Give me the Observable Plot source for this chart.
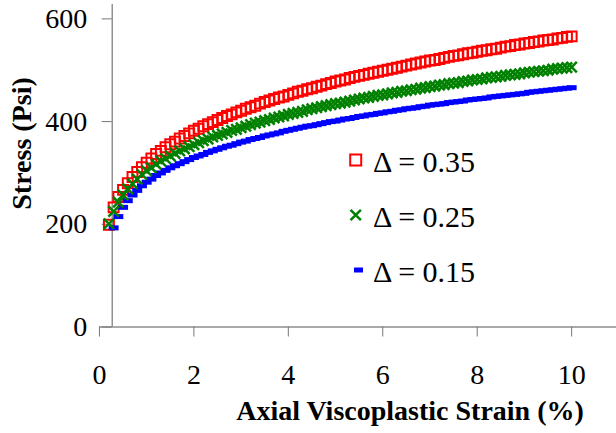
<!DOCTYPE html>
<html><head><meta charset="utf-8">
<script src="https://cdn.jsdelivr.net/npm/d3@7"></script>
<script src="https://cdn.jsdelivr.net/npm/@observablehq/plot@0.6"></script>
</head><body style="margin:0;background:#fff"><div id="chart"></div>
<script>
// Axial viscoplastic strain (%)
const strain = [0.2,0.3,0.4,0.5,0.6,0.7,0.8,0.9,1.0,1.1,1.2,1.3,1.4,1.5,1.6,1.7,1.8,1.9,2.0,
2.1,2.2,2.3,2.4,2.5,2.6,2.7,2.8,2.9,3.0,3.1,3.2,3.3,3.4,3.5,3.6,3.7,3.8,3.9,4.0,
4.1,4.2,4.3,4.4,4.5,4.6,4.7,4.8,4.9,5.0,5.1,5.2,5.3,5.4,5.5,5.6,5.7,5.8,5.9,6.0,
6.1,6.2,6.3,6.4,6.5,6.6,6.7,6.8,6.9,7.0,7.1,7.2,7.3,7.4,7.5,7.6,7.7,7.8,7.9,8.0,
8.1,8.2,8.3,8.4,8.5,8.6,8.7,8.8,8.9,9.0,9.1,9.2,9.3,9.4,9.5,9.6,9.7,9.8,9.9,10.0];
// Stress (Psi), delta 0.35
const stress035 = [199,233,253,267,280,292,302,311,320,328,337,343,350,356,361,367,372,377,382,
386,391,395,399,403,407,411,414,418,421,425,428,431,435,438,441,444,447,449,452,
455,458,460,463,465,468,470,473,475,478,480,482,485,487,489,491,493,495,497,499,
501,503,505,507,509,511,513,515,517,519,520,522,524,526,528,529,531,533,534,536,
538,539,541,542,544,546,547,549,550,552,553,555,556,558,559,560,562,563,565,566];
// Stress (Psi), delta 0.25
const stress025 = [201,225,243,257,269,279,288,297,304,310,317,323,328,333,338,343,347,351,355,
359,363,366,370,373,376,379,383,385,388,391,394,397,399,402,404,407,409,411,414,
416,418,420,423,425,427,429,431,433,435,436,438,440,442,444,446,447,449,451,452,
454,456,457,459,460,462,463,465,466,468,469,471,472,474,475,476,478,479,481,482,
483,485,486,487,488,490,491,492,493,495,496,497,498,499,500,502,503,504,505,506];
// Stress (Psi), delta 0.15 (starts at 0.3 % strain)
const strain015 = [0.3,0.4,0.5,0.6,0.7,0.8,0.9,1.0,1.1,1.2,1.3,1.4,1.5,1.6,1.7,1.8,1.9,2.0,
2.1,2.2,2.3,2.4,2.5,2.6,2.7,2.8,2.9,3.0,3.1,3.2,3.3,3.4,3.5,3.6,3.7,3.8,3.9,4.0,
4.1,4.2,4.3,4.4,4.5,4.6,4.7,4.8,4.9,5.0,5.1,5.2,5.3,5.4,5.5,5.6,5.7,5.8,5.9,6.0,
6.1,6.2,6.3,6.4,6.5,6.6,6.7,6.8,6.9,7.0,7.1,7.2,7.3,7.4,7.5,7.6,7.7,7.8,7.9,8.0,
8.1,8.2,8.3,8.4,8.5,8.6,8.7,8.8,8.9,9.0,9.1,9.2,9.3,9.4,9.5,9.6,9.7,9.8,9.9,10.0];
const stress015 = [193,215,233,246,257,266,275,282,288,295,300,305,310,314,318,322,326,330,
333,336,340,343,346,349,352,354,357,360,362,365,367,369,372,374,376,378,381,383,
385,387,389,391,392,394,396,398,400,401,403,405,406,408,410,411,413,414,416,417,
419,420,422,423,425,426,427,429,430,432,433,434,435,437,438,439,440,442,443,444,
445,446,448,449,450,451,452,453,454,455,457,458,459,460,461,462,463,464,465,466];

const xTicks = [0,2,4,6,8,10];
const yTicks = [0,200,400,600];
const seriesLabels = ["Δ = 0.35","Δ = 0.25","Δ = 0.15"];
const xTitle = "Axial Viscoplastic Strain (%)";
const yTitle = "Stress (Psi)";

const red = strain.map((x,i)=>({x, y: stress035[i]}));
const green = strain.map((x,i)=>({x, y: stress025[i]}));
const blue = strain015.map((x,i)=>({x, y: stress015[i]}));

const dash = {draw(ctx){ ctx.rect(-5,-2.5,10,5); }};
const fontName = "Liberation Serif";

const chart = Plot.plot({
  width: 616, height: 433,
  marginLeft: 111.7, marginRight: 0, marginTop: 4, marginBottom: 106.5,
  x: {domain: [0.27, 10.95]},
  y: {domain: [0, 628]},
  marks: [
    Plot.ruleY([0], {x1: 0, x2: 10.95, stroke: "#555", strokeWidth: 1.2}),
    Plot.ruleX([0.27], {stroke: "#777", strokeWidth: 1.2}),
    Plot.axisX({ticks: xTicks, tickSize: 10, tickPadding: 27, fontSize: 28, stroke: "#777", fill: "black", label: null, tickFormat: d => String(d)}),
    Plot.axisY({ticks: yTicks, tickSize: 10, tickPadding: 15, fontSize: 28, stroke: "#777", fill: "black", label: null, tickFormat: d => String(d)}),
    Plot.dot(red, {x: "x", y: "y", symbol: "square", r: 5.6, stroke: "#ff0000", strokeWidth: 2, fill: "none"}),
    Plot.dot(blue, {x: "x", y: "y", symbol: dash, r: 5, fill: "#0000ff", stroke: "none"}),
    Plot.dot(green, {x: "x", y: "y", symbol: "times", r: 4.8, stroke: "#008000", strokeWidth: 2.5})
  ]
});

// plain SVG styling: drop Plot's embedded stylesheet and set fonts as attributes
const styleEl = chart.querySelector("style");
if (styleEl) styleEl.remove();
chart.setAttribute("style", "display:block;background:white;overflow:visible");
chart.setAttribute("font-family", fontName);

const svg = d3.select(chart);
svg.selectAll("[font-variant]").attr("font-variant", null);

svg.append("text")
  .attr("x", 410).attr("y", 420)
  .attr("text-anchor", "middle")
  .attr("font-weight", "bold").attr("font-size", 28)
  .attr("fill", "black")
  .text(xTitle);
svg.append("text")
  .attr("transform", "translate(31,143.5) rotate(-90)")
  .attr("text-anchor", "middle")
  .attr("font-weight", "bold").attr("font-size", 28)
  .attr("fill", "black")
  .text(yTitle);

// legend
const lg = svg.append("g");
const rows = [160, 215, 270];
lg.append("rect").attr("x", 350.2).attr("y", rows[0]-5.5).attr("width", 11).attr("height", 11)
  .attr("fill", "none").attr("stroke", "#ff0000").attr("stroke-width", 2);
lg.append("path").attr("transform", `translate(355.7,${rows[1]})`)
  .attr("d", d3.symbol(d3.symbolTimes, Math.PI*4.8*4.8)())
  .attr("fill", "none").attr("stroke", "#008000").attr("stroke-width", 2.5);
lg.append("rect").attr("x", 354).attr("y", rows[2]-2.5).attr("width", 9).attr("height", 5)
  .attr("fill", "#0000ff");
seriesLabels.forEach((t,i) => {
  lg.append("text").attr("x", 373).attr("y", rows[i] + 11.5)
    .attr("text-anchor", "start")
    .attr("font-size", 30).attr("fill", "black")
    .text(t);
});

svg.selectAll("text").attr("font-family", fontName);

document.getElementById("chart").appendChild(chart);
</script>
</body></html>
